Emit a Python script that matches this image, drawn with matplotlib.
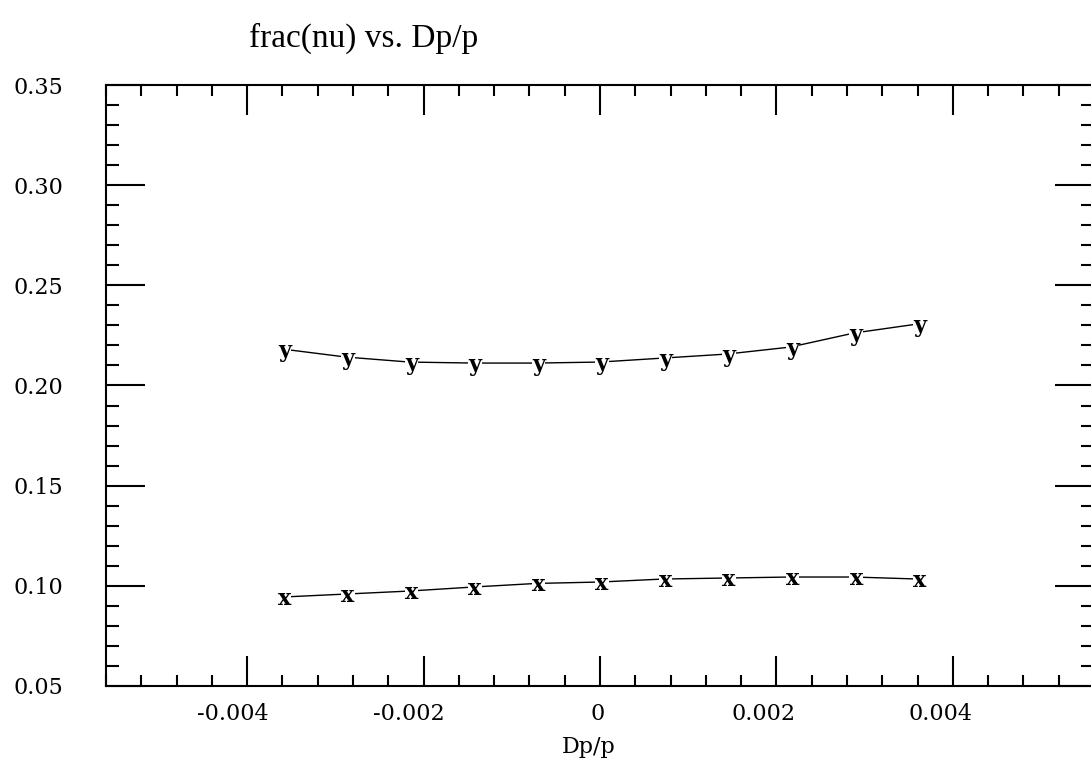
import numpy as np
import matplotlib
matplotlib.use("Agg")
import matplotlib.pyplot as plt
from matplotlib.ticker import MultipleLocator, FixedLocator, FixedFormatter
import matplotlib.transforms as mtransforms

# Dp/p values of the scan
dpp = [-0.0036, -0.00288, -0.00216, -0.00144, -0.00072, 0.0,
       0.00072, 0.00144, 0.00216, 0.00288, 0.0036]
# fractional tunes
nu_x = [0.0944, 0.0959, 0.0974, 0.0994, 0.1012, 0.1019,
        0.1034, 0.1039, 0.1044, 0.1044, 0.1034]
nu_y = [0.2182, 0.2142, 0.2117, 0.2112, 0.2112, 0.2117,
        0.2137, 0.2157, 0.2192, 0.2262, 0.2307]

xticks = [-0.004, -0.002, 0.0, 0.002, 0.004]
xticklabels = ["-0.004", "-0.002", "0", "0.002", "0.004"]
yticks = [0.05, 0.10, 0.15, 0.20, 0.25, 0.30, 0.35]
yticklabels = ["0.05", "0.10", "0.15", "0.20", "0.25", "0.30", "0.35"]

serif = "DejaVu Serif"
times = "Liberation Serif"

fig = plt.figure(figsize=(10.91, 7.62), dpi=100)
ax = fig.add_axes([106 / 1091, 76 / 762, 988 / 1091, 601 / 762])

for vals, mark in [(nu_x, "x"), (nu_y, "y")]:
    ax.plot(dpp, vals, color="black", lw=1.0, zorder=2)
    for xv, yv in zip(dpp, vals):
        ax.annotate(mark, (xv, yv), xytext=(1.5, -5.5), textcoords="offset points",
                    ha="center", va="baseline", fontsize=16, family=serif,
                    fontweight="bold", zorder=3,
                    bbox=dict(facecolor="white", edgecolor="none", pad=0.1))

ax.set_xlim(-0.0056, 0.0056)
ax.set_ylim(0.05, 0.35)

ax.xaxis.set_major_locator(FixedLocator(xticks))
ax.xaxis.set_major_formatter(FixedFormatter(xticklabels))
ax.xaxis.set_minor_locator(MultipleLocator(0.0004))
ax.yaxis.set_major_locator(FixedLocator(yticks))
ax.yaxis.set_major_formatter(FixedFormatter(yticklabels))
ax.yaxis.set_minor_locator(MultipleLocator(0.01))

ax.tick_params(axis="both", which="both", direction="in", top=True, right=True,
               width=1.5, colors="black", labelsize=16)
ax.tick_params(axis="x", which="major", length=21.5, pad=12)
ax.tick_params(axis="x", which="minor", length=7.7)
ax.tick_params(axis="y", which="major", length=28, pad=31)
ax.tick_params(axis="y", which="minor", length=9.4)
for lab in ax.get_xticklabels() + ax.get_yticklabels():
    lab.set_family(serif)
for sp in ax.spines.values():
    sp.set_linewidth(1.5)

ax.set_xlabel("Dp/p", family=serif, fontsize=16, va="center")
ax.xaxis.set_label_coords((589 - 106) / 988, -61 / 601)
fig.text(0.333, 0.950, "frac(nu) vs. Dp/p", family=times, fontsize=24,
         ha="center", va="center")

# the labels of the x axis sit a little left of their ticks
fig.canvas.draw()
renderer = fig.canvas.get_renderer()
for lab in ax.get_xticklabels():
    w = lab.get_window_extent(renderer).width
    lab.set_transform(lab.get_transform() +
                      mtransforms.Affine2D().translate(-0.2 * w, 0))

fig.savefig("out.png", dpi=100)
